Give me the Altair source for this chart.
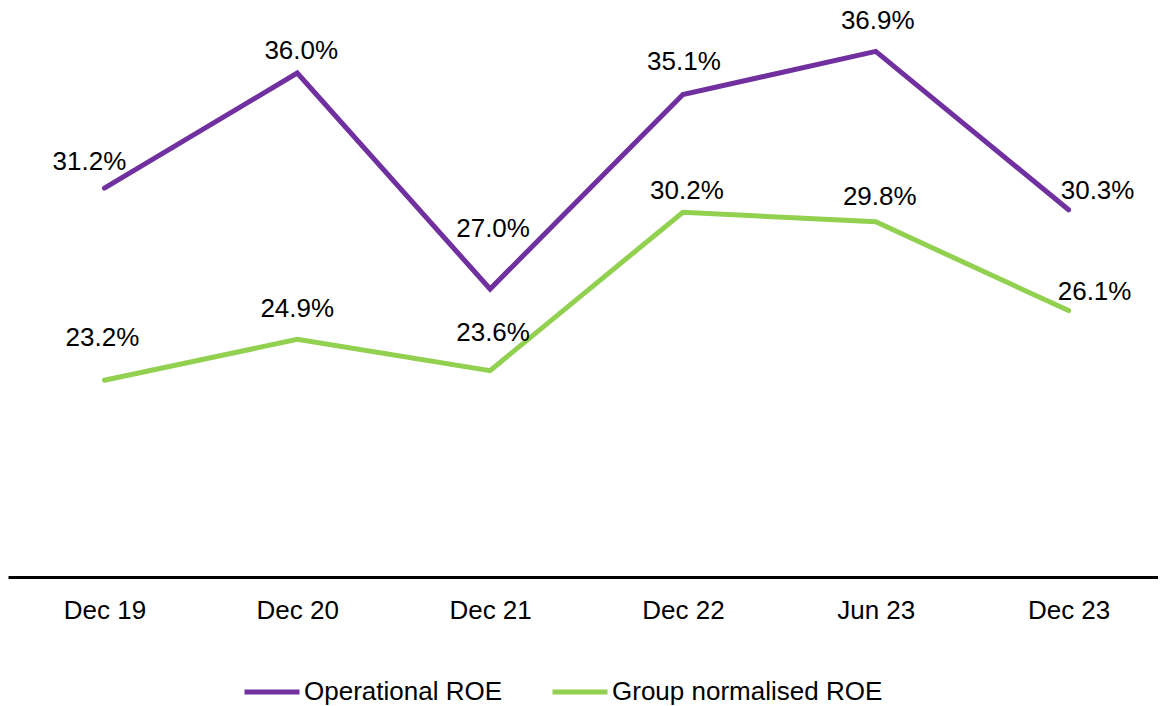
import altair as alt
import pandas as pd

periods = ["Dec 19", "Dec 20", "Dec 21", "Dec 22", "Jun 23", "Dec 23"]
series_names = ["Operational ROE", "Group normalised ROE"]
operational_roe = [31.2, 36.0, 27.0, 35.1, 36.9, 30.3]
group_normalised_roe = [23.2, 24.9, 23.6, 30.2, 29.8, 26.1]
colors = ["#7030A0", "#92D050"]

rows = []
for name, vals in zip(series_names, [operational_roe, group_normalised_roe]):
    for p, v in zip(periods, vals):
        rows.append({"period": p, "series": name, "value": v})
df = pd.DataFrame(rows)

FONT = "Liberation Sans"

# label offsets (dx, dy) relative to each point, per series and period
label_offsets = {
    "Operational ROE": [(-15, -26.5), (4, -21.5), (3, -59.5), (1, -32.5), (2, -30.5), (29, -18.5)],
    "Group normalised ROE": [(-2, -42.5), (0, -30.5), (3, -37.5), (4, -21.5), (4, -24.5), (26, -18.5)],
}

x_enc = alt.X("period:O", sort=periods, scale=alt.Scale(padding=0.5, range=[0, 1157]),
              axis=alt.Axis(title=None, domain=True, domainColor="#000000", domainWidth=3,
                            ticks=False, grid=False, labelFontSize=26, labelFont=FONT,
                            labelColor="#000000", labelPadding=20, labelAngle=0))
y_enc = alt.Y("value:Q", scale=alt.Scale(domain=[15, 38.708], zero=False, nice=False), axis=None)
color_enc = alt.Color("series:N",
                      scale=alt.Scale(domain=series_names, range=colors),
                      legend=alt.Legend(title=None, orient="none", legendX=234, legendY=654,
                                        direction="horizontal", symbolType="stroke",
                                        symbolSize=3025, symbolStrokeWidth=5,
                                        labelFontSize=26, labelFont=FONT, labelColor="#000000",
                                        labelOffset=2, columnPadding=40, padding=0,
                                        labelLimit=400))

base = alt.Chart(df)

lines = base.mark_line(strokeWidth=5, strokeCap="round", strokeJoin="miter").encode(
    x=x_enc, y=y_enc, color=color_enc,
    order=alt.Order("idx:Q"),
).transform_calculate(idx="indexof(%s, datum.period)" % str(periods))

texts = []
for name in series_names:
    for p, (dx, dy) in zip(periods, label_offsets[name]):
        t = base.transform_filter(
            (alt.datum.series == name) & (alt.datum.period == p)
        ).transform_calculate(
            label="format(datum.value, '.1f') + '%'"
        ).mark_text(fontSize=26, font=FONT, color="#000000", dx=dx, dy=dy,
                    align="center", baseline="middle").encode(
            x=alt.X("period:O", sort=periods),
            y=alt.Y("value:Q"),
            text="label:N",
        )
        texts.append(t)

chart = alt.layer(lines, *texts).properties(
    width=1150, height=569,
    padding={"left": 0, "top": 0, "right": 0, "bottom": 135},
    autosize=alt.AutoSizeParams(type="none"),
    background="#ffffff",
).configure_view(stroke=None)

chart.save("out.html", embed_options={"renderer": "svg", "actions": False})
